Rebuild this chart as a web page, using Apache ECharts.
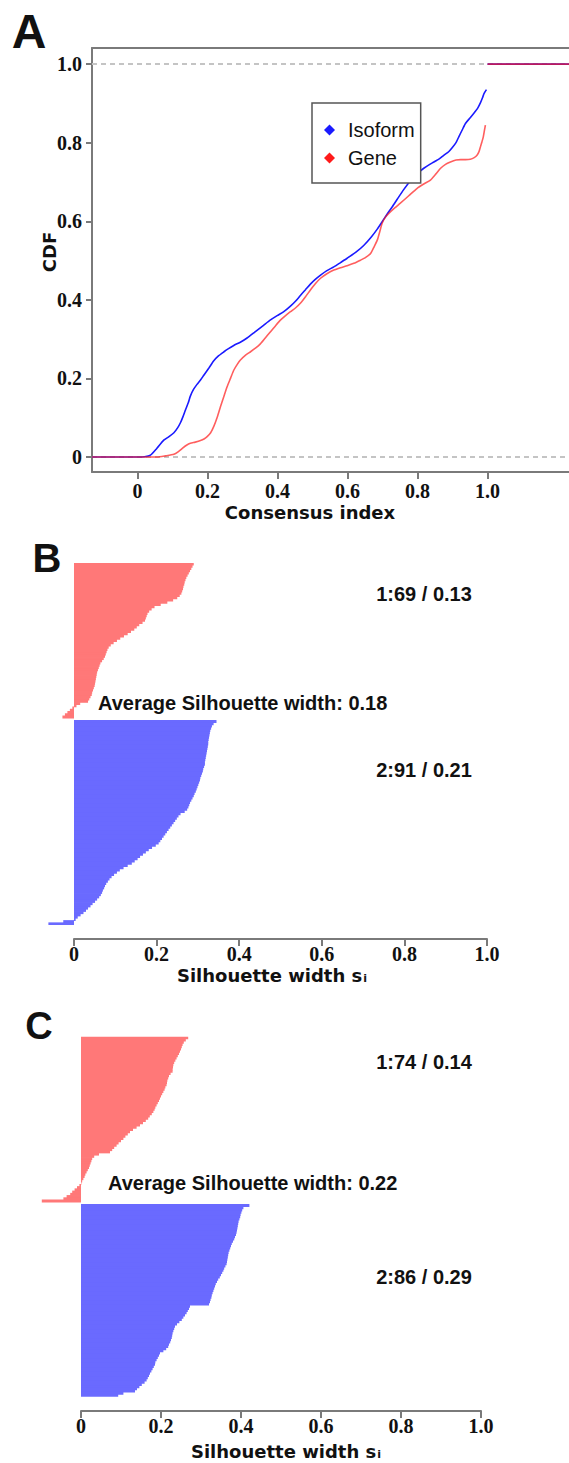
<!DOCTYPE html>
<html><head><meta charset="utf-8">
<script src="https://cdn.jsdelivr.net/npm/echarts@6/dist/echarts.min.js"></script>
<style>html,body{margin:0;padding:0;background:#fff}#c{width:569px;height:1463px}</style>
</head><body><div id="c"></div>
<script>
// ---------- Panel A: consensus CDF ----------
const isoformX = [-0.13,0.0,0.02,0.037,0.055,0.075,0.09,0.104,0.115,0.123,0.13,0.137,0.145,0.151,0.16,0.17,0.18,0.19,0.205,0.218,0.232,0.247,0.26,0.275,0.295,0.313,0.335,0.361,0.38,0.399,0.418,0.437,0.452,0.466,0.48,0.494,0.508,0.523,0.54,0.561,0.58,0.599,0.625,0.647,0.668,0.685,0.70,0.713,0.728,0.742,0.76,0.78,0.80,0.818,0.835,0.847,0.862,0.875,0.889,0.899,0.91,0.918,0.928,0.937,0.95,0.961,0.972,0.98,0.986,0.99,0.997,0.999,1.0,1.24];
const isoformY = [0,0,0.001,0.005,0.022,0.043,0.052,0.062,0.075,0.088,0.103,0.12,0.138,0.155,0.172,0.185,0.196,0.209,0.228,0.245,0.258,0.268,0.276,0.284,0.293,0.303,0.318,0.336,0.349,0.36,0.37,0.384,0.397,0.412,0.426,0.44,0.452,0.463,0.474,0.484,0.495,0.506,0.522,0.539,0.56,0.58,0.6,0.618,0.637,0.656,0.68,0.703,0.722,0.735,0.745,0.751,0.759,0.768,0.777,0.787,0.8,0.815,0.833,0.849,0.863,0.875,0.888,0.902,0.915,0.925,0.935,'-',1.0,1.0];
const geneX = [-0.13,0.056,0.08,0.104,0.117,0.128,0.14,0.151,0.165,0.18,0.19,0.199,0.209,0.218,0.228,0.237,0.247,0.256,0.266,0.275,0.285,0.294,0.308,0.323,0.337,0.351,0.365,0.38,0.395,0.409,0.423,0.437,0.452,0.466,0.48,0.494,0.508,0.523,0.54,0.561,0.58,0.599,0.618,0.637,0.652,0.666,0.676,0.685,0.692,0.699,0.708,0.718,0.735,0.751,0.775,0.799,0.818,0.837,0.852,0.866,0.88,0.894,0.91,0.923,0.937,0.951,0.962,0.97,0.976,0.98,0.984,0.988,0.991,0.994,0.997,1.0,1.24];
const geneY = [0,0,0.003,0.007,0.014,0.022,0.03,0.035,0.038,0.042,0.046,0.052,0.062,0.078,0.102,0.128,0.155,0.179,0.201,0.221,0.236,0.247,0.259,0.268,0.277,0.288,0.303,0.319,0.335,0.349,0.36,0.37,0.38,0.392,0.408,0.425,0.441,0.455,0.466,0.476,0.482,0.487,0.493,0.501,0.508,0.518,0.535,0.552,0.573,0.595,0.61,0.62,0.634,0.646,0.665,0.684,0.695,0.705,0.72,0.735,0.745,0.751,0.756,0.757,0.757,0.758,0.762,0.768,0.778,0.79,0.802,0.815,0.83,0.845,'-',1.0,1.0];
const refLines = [0,1];

// ---------- Panel B: silhouette (isoform) ----------
const silB1 = [0.290,0.287,0.284,0.281,0.278,0.275,0.272,0.270,0.268,0.267,0.265,0.264,0.262,0.260,0.256,0.250,0.240,0.226,0.210,0.195,0.188,0.182,0.178,0.176,0.174,0.172,0.166,0.158,0.152,0.146,0.138,0.130,0.121,0.112,0.104,0.096,0.089,0.084,0.081,0.079,0.077,0.075,0.072,0.068,0.064,0.062,0.060,0.058,0.056,0.055,0.054,0.053,0.052,0.051,0.050,0.048,0.046,0.044,0.043,0.040,0.037,0.034,0.015,0.006,-0.004,-0.010,-0.016,-0.022,-0.028];
const silB2 = [0.345,0.338,0.334,0.332,0.330,0.329,0.328,0.327,0.326,0.325,0.325,0.324,0.323,0.322,0.321,0.320,0.319,0.318,0.317,0.317,0.315,0.313,0.312,0.310,0.308,0.306,0.305,0.303,0.301,0.299,0.297,0.295,0.292,0.290,0.287,0.284,0.281,0.279,0.277,0.274,0.268,0.258,0.253,0.249,0.245,0.241,0.237,0.233,0.229,0.225,0.221,0.217,0.213,0.209,0.205,0.198,0.189,0.181,0.174,0.167,0.160,0.154,0.147,0.140,0.130,0.120,0.111,0.104,0.097,0.091,0.086,0.082,0.078,0.075,0.073,0.070,0.068,0.065,0.061,0.056,0.051,0.045,0.040,0.034,0.029,0.023,0.016,0.009,0.004,-0.026,-0.062];
const labelsB = ['1:69 / 0.13','2:91 / 0.21','Average Silhouette width: 0.18'];

// ---------- Panel C: silhouette (gene) ----------
const silC1 = [0.268,0.262,0.257,0.254,0.252,0.250,0.2475,0.245,0.242,0.239,0.236,0.233,0.231,0.230,0.229,0.229,0.224,0.220,0.218,0.216,0.215,0.214,0.211,0.209,0.206,0.203,0.200,0.1975,0.195,0.192,0.189,0.186,0.184,0.181,0.177,0.172,0.168,0.162,0.155,0.1475,0.139,0.130,0.1225,0.117,0.111,0.106,0.100,0.094,0.089,0.083,0.078,0.0725,0.045,0.033,0.028,0.026,0.024,0.022,0.020,0.017,0.014,0.011,0.009,0.006,0.003,0.001,-0.004,-0.010,-0.016,-0.022,-0.027,-0.036,-0.044,-0.098];
const silC2 = [0.421,0.406,0.403,0.401,0.399,0.398,0.396,0.394,0.393,0.392,0.391,0.390,0.389,0.3875,0.385,0.383,0.380,0.377,0.375,0.373,0.371,0.369,0.368,0.367,0.366,0.365,0.364,0.361,0.358,0.356,0.353,0.350,0.347,0.343,0.340,0.337,0.335,0.333,0.331,0.329,0.327,0.326,0.324,0.3225,0.320,0.2725,0.270,0.267,0.264,0.260,0.256,0.252,0.246,0.240,0.235,0.233,0.231,0.229,0.228,0.227,0.225,0.223,0.220,0.218,0.213,0.206,0.1975,0.195,0.192,0.189,0.186,0.185,0.182,0.179,0.176,0.1725,0.170,0.167,0.164,0.159,0.152,0.146,0.140,0.135,0.106,0.093];
const labelsC = ['1:74 / 0.14','2:86 / 0.29','Average Silhouette width: 0.22'];

// ---------- helpers ----------
const zip = (xs, ys) => xs.map((x, i) => [x, ys[i]]);
function padded(first, second, which) {
  const gap = ['-'];
  const blank = a => a.map(() => '-');
  return which === 1 ? first.concat(gap, blank(second)) : blank(first).concat(gap, second);
}
const fmt = v => (v === 0 ? '0' : v.toFixed(1));
const GRAY = '#7a7a7a';
const RED = '#ff7878';
const BLUE = '#6a6aff';
const serifLabel = size => ({ fontFamily: 'Liberation Serif', fontWeight: 'bold', fontSize: size, color: '#111', formatter: fmt });
const titleFont = 'bold 18px "DejaVu Sans"';
const annFont = 'bold 20px "Liberation Sans"';

const catsB = silB1.concat(['-'], silB2).map((_, i) => i);
const catsC = silC1.concat(['-'], silC2).map((_, i) => i);

// Panel A layout: box runs off the right edge of the page (350 px per unit on x)
const A = { left: 92, top: 48, width: 477, height: 424, xmin: -0.13, ymin: -0.038, ymax: 1.041 };
A.xmax = A.xmin + A.width / 350;
const ax = v => A.left + (v - A.xmin) / (A.xmax - A.xmin) * A.width;
const ay = v => A.top + (A.ymax - v) / (A.ymax - A.ymin) * A.height;

function txt(x, y, text, font, align, extra) {
  return Object.assign({
    type: 'text', x: x, y: y,
    style: { text: text, font: font, fill: '#111', align: align || 'center', verticalAlign: 'middle', textAlign: align || 'center', textVerticalAlign: 'middle' }
  }, extra || {});
}
function subTitle(x, y) {
  return {
    type: 'text', x: x, y: y,
    style: {
      text: '{a|Silhouette width s}{b|i}', align: 'center', verticalAlign: 'middle', textAlign: 'center', textVerticalAlign: 'middle',
      rich: {
        a: { font: titleFont, fill: '#111', lineHeight: 18, verticalAlign: 'bottom' },
        b: { font: 'bold 11px "DejaVu Sans"', fill: '#111', lineHeight: 12, verticalAlign: 'bottom', padding: [0, 0, 0, 1] }
      }
    }
  };
}
function barSeries(name, xi, data, color) {
  return { name: name, type: 'bar', xAxisIndex: xi, yAxisIndex: xi, data: data,
    barWidth: 3, barGap: '-100%',
    itemStyle: { color: color } };
}
const lineOnly = { show: true, onZero: false, lineStyle: { color: GRAY, width: 2 } };
const tickAxis = (gi, extra) => Object.assign({ gridIndex: gi, type: 'value', min: 0, max: 1, interval: 0.2,
  axisLine: { onZero: false, lineStyle: { color: GRAY, width: 2 } }, splitLine: { show: false },
  axisTick: { show: true, length: 7, lineStyle: { color: GRAY, width: 2 } },
  axisLabel: Object.assign(serifLabel(20), { margin: 5 }) }, extra || {});

const chart = echarts.init(document.getElementById('c'), null, { renderer: 'svg' });
chart.setOption({
  animation: false,
  backgroundColor: '#fff',
  grid: [
    { left: A.left, top: A.top, width: A.width, height: A.height },
    { left: 74 - 0.07 * 413, top: 563, width: 1.07 * 413, height: 362 },
    { left: 74, top: 930, width: 413, height: 9 },
    { left: 81 - 0.11 * 400, top: 1036.7, width: 1.11 * 400, height: 360 },
    { left: 81, top: 1402, width: 400, height: 9 },
    // tick scaffolds for panel A (0..1 span of the box)
    { left: ax(0), top: A.top + A.height - 9, width: ax(1) - ax(0), height: 9 },
    { left: A.left, top: ay(1), width: 9, height: ay(0) - ay(1) }
  ],
  xAxis: [
    { gridIndex: 0, type: 'value', min: A.xmin, max: A.xmax, position: 'bottom',
      axisLine: lineOnly, axisTick: { show: false }, axisLabel: { show: false }, splitLine: { show: false } },
    { gridIndex: 1, type: 'value', min: -0.07, max: 1.0, show: false },
    tickAxis(2),
    { gridIndex: 3, type: 'value', min: -0.11, max: 1.0, show: false },
    tickAxis(4),
    tickAxis(5, { axisLine: { show: false, onZero: false },
      axisLabel: Object.assign(serifLabel(20), { margin: 9 }) }),
    { gridIndex: 6, type: 'value', show: false },
    { gridIndex: 0, type: 'value', min: A.xmin, max: A.xmax, position: 'top',
      axisLine: lineOnly, axisTick: { show: false }, axisLabel: { show: false }, splitLine: { show: false } }
  ],
  yAxis: [
    { gridIndex: 0, type: 'value', min: A.ymin, max: A.ymax, position: 'left',
      axisLine: lineOnly, axisTick: { show: false }, axisLabel: { show: false }, splitLine: { show: false } },
    { gridIndex: 1, type: 'category', inverse: true, data: catsB, show: false },
    { gridIndex: 2, type: 'value', show: false },
    { gridIndex: 3, type: 'category', inverse: true, data: catsC, show: false },
    { gridIndex: 4, type: 'value', show: false },
    { gridIndex: 5, type: 'value', show: false },
    tickAxis(6, { position: 'left', axisLine: { show: false, onZero: false },
      axisTick: { show: true, length: 6, lineStyle: { color: GRAY, width: 2 } },
      axisLabel: Object.assign(serifLabel(20), { margin: 10 }) })
  ],
  legend: {
    data: ['Isoform', 'Gene'], orient: 'vertical', left: 312, top: 103,
    icon: 'diamond', itemWidth: 11, itemHeight: 11, itemGap: 8,
    padding: [17, 6, 15, 12], borderColor: '#555', borderWidth: 1.5, backgroundColor: '#fff',
    textStyle: { fontFamily: 'Liberation Sans', fontSize: 20, color: '#111', padding: [0, 0, 0, 8] }
  },
  series: [
    { name: 'Isoform', type: 'line', xAxisIndex: 0, yAxisIndex: 0, data: zip(isoformX, isoformY),
      showSymbol: false, smooth: 0.2, connectNulls: false, color: '#1a1aff', lineStyle: { width: 1.6, color: '#1a1aff' }, z: 3,
      markLine: { silent: true, symbol: 'none', label: { show: false },
        lineStyle: { color: '#c4c4c4', type: [5, 4], width: 2 }, data: refLines.map(v => ({ yAxis: v })), z: 1 } },
    { name: 'Gene', type: 'line', xAxisIndex: 0, yAxisIndex: 0, data: zip(geneX, geneY),
      showSymbol: false, smooth: 0.2, connectNulls: false, color: '#ff1a1a', lineStyle: { width: 1.6, color: '#ff1a1a', opacity: 0.7 }, z: 4 },
    barSeries('B1', 1, padded(silB1, silB2, 1), RED),
    barSeries('B2', 1, padded(silB1, silB2, 2), BLUE),
    barSeries('C1', 3, padded(silC1, silC2, 1), RED),
    barSeries('C2', 3, padded(silC1, silC2, 2), BLUE)
  ],
  graphic: [
    txt(29, 31, 'A', 'bold 48px "Liberation Sans"'),
    txt(47, 558, 'B', 'bold 40px "Liberation Sans"'),
    txt(39, 1026, 'C', 'bold 38px "Liberation Sans"'),
    txt(49, 252, 'CDF', titleFont, 'center', { rotation: Math.PI / 2 }),
    txt(310, 512, 'Consensus index', titleFont),
    txt(424, 594, labelsB[0], annFont),
    txt(424, 770, labelsB[1], annFont),
    txt(98, 703, labelsB[2], annFont, 'left'),
    subTitle(272, 975),
    txt(424, 1062, labelsC[0], annFont),
    txt(424, 1277, labelsC[1], annFont),
    txt(108, 1183, labelsC[2], annFont, 'left'),
    subTitle(286, 1451)
  ]
});
</script>
</body></html>
